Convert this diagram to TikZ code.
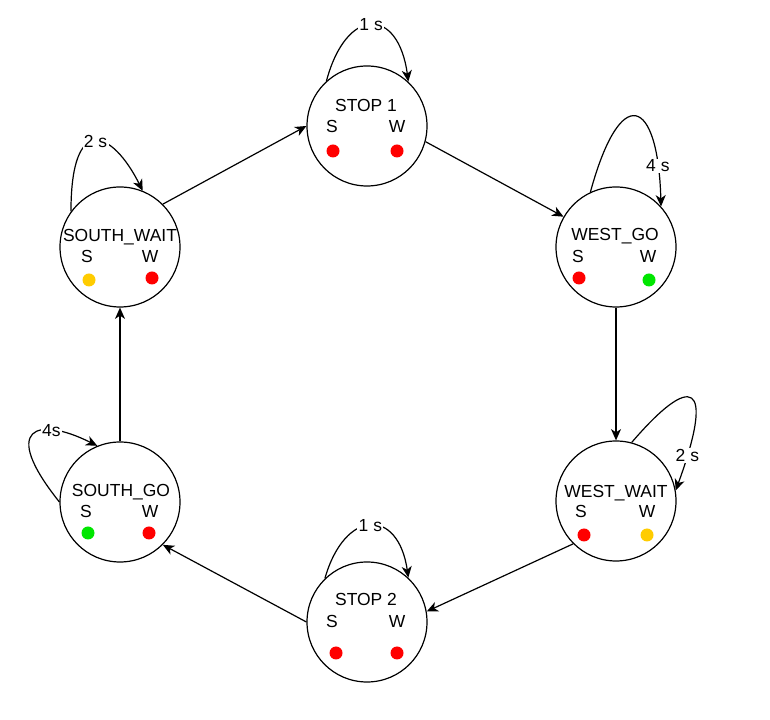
\documentclass[tikz,border=0pt]{standalone}
\usepackage{fontspec}
\setmainfont{Liberation Sans}
\usetikzlibrary{arrows.meta}
\definecolor{ledred}{RGB}{255,0,0}
\definecolor{ledgreen}{RGB}{0,230,0}
\definecolor{ledyellow}{RGB}{255,204,0}
\tikzset{
  state/.style={draw, circle, line width=0.9pt, minimum size=90pt, inner sep=0pt},
  txt/.style={anchor=base, inner sep=0pt, font=\fontsize{13.1pt}{15pt}\selectfont},
  lbl/.style={fill=white, inner sep=1pt, font=\fontsize{13.1pt}{15pt}\selectfont},
  led/.style={circle, minimum size=9.75pt, inner sep=0pt},
  trans/.style={line width=0.9pt, -{Stealth[length=8.5pt,width=7.5pt,inset=2.5pt]}},
}
\begin{document}
\begin{tikzpicture}[x=0.75pt,y=0.75pt]
\useasboundingbox (0,0) rectangle (770,720);
\node[state] (stop1) at (367,594) {};
\node[state] (westgo) at (616,473) {};
\node[state] (westwait) at (616,219) {};
\node[state] (stop2) at (367,98) {};
\node[state] (southgo) at (120,218) {};
\node[state] (southwait) at (120,473) {};

\node[txt] (stop1t) at (366,608) {STOP 1};
\node[txt] (stop1s) at (332,587) {S};
\node[txt] (stop1w) at (397,587) {W};
\node[led, fill=ledred] (stop1ls) at (333,569) {};
\node[led, fill=ledred] (stop1lw) at (397,569) {};

\node[txt] (westgot) at (615,479) {WEST\_GO};
\node[txt] (westgos) at (578,457) {S};
\node[txt] (westgow) at (648,457) {W};
\node[led, fill=ledred] (westgols) at (579,442) {};
\node[led, fill=ledgreen] (westgolw) at (649,440) {};

\node[txt] (westwaitt) at (616,222) {WEST\_WAIT};
\node[txt] (westwaits) at (581,202) {S};
\node[txt] (westwaitw) at (647,202) {W};
\node[led, fill=ledred] (westwaitls) at (584,185) {};
\node[led, fill=ledyellow] (westwaitlw) at (647,185) {};

\node[txt] (stop2t) at (366,114) {STOP 2};
\node[txt] (stop2s) at (332,92) {S};
\node[txt] (stop2w) at (397,92) {W};
\node[led, fill=ledred] (stop2ls) at (336,67) {};
\node[led, fill=ledred] (stop2lw) at (397,67) {};

\node[txt] (southgot) at (121,223) {SOUTH\_GO};
\node[txt] (southgos) at (86,202) {S};
\node[txt] (southgow) at (150,202) {W};
\node[led, fill=ledgreen] (southgols) at (88,187) {};
\node[led, fill=ledred] (southgolw) at (149,187) {};

\node[txt] (southwaitt) at (120,478) {SOUTH\_WAIT};
\node[txt] (southwaits) at (87,457) {S};
\node[txt] (southwaitw) at (150,457) {W};
\node[led, fill=ledyellow] (southwaitls) at (89,440) {};
\node[led, fill=ledred] (southwaitlw) at (152,442) {};

\draw[trans] (southwait.45) -- (stop1.180);
\draw[trans] (stop1.-15) -- (westgo.150);
\draw[trans] (westgo.south) -- (westwait.north);
\draw[trans] (westwait.225) -- (stop2.10);
\draw[trans] (stop2.180) -- (southgo.-45);
\draw[trans] (southgo.north) -- (southwait.south);

\draw[trans] (stop1.132) .. controls +(20,75) and +(-10,75) .. (stop1.47) node[lbl,pos=0.5] (stop1d) {1 s};
\draw[trans] (westgo.115) .. controls +(30,110) and +(-3,110) .. (westgo.42) node[lbl,pos=0.86] (westgod) {4 s};
\draw[trans] (westwait.75) .. controls +(60,70) and +(40,110) .. (westwait.10) node[lbl,pos=0.88] (westwaitd) {2 s};
\draw[trans] (stop2.134) .. controls +(20,70) and +(-10,70) .. (stop2.47) node[lbl,pos=0.5] (stop2d) {1 s};
\draw[trans] (southgo.180) .. controls +(-60,75) and +(-60,30) .. (southgo.112) node[lbl,pos=0.7] (southgod) {4s};
\draw[trans] (southwait.144) .. controls +(0,100) and +(-30,60) .. (southwait.68) node[lbl,pos=0.5] (southwaitd) {2 s};
\end{tikzpicture}
\end{document}
